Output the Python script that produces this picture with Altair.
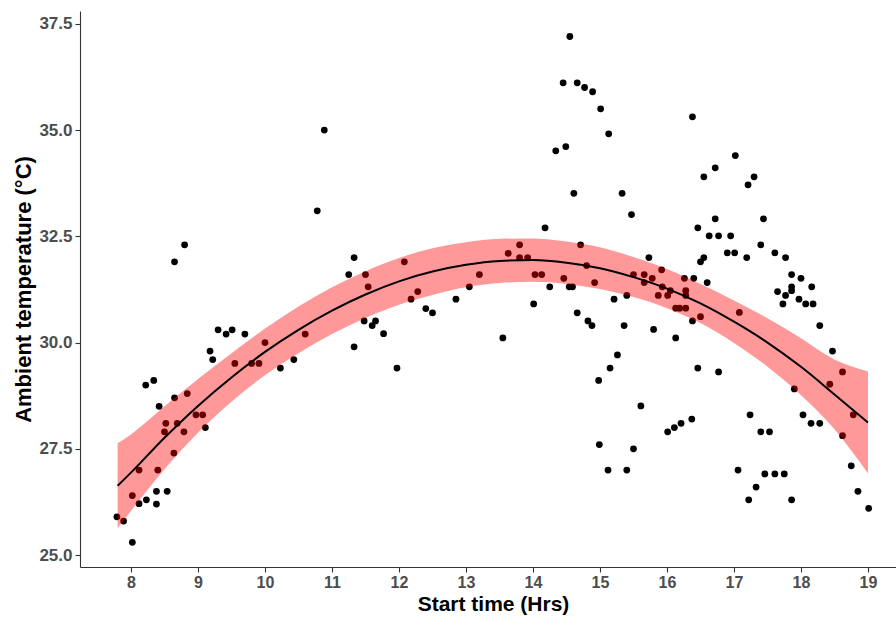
import altair as alt
import pandas as pd

start_time = [
    7.79, 7.89, 8.02, 8.02, 8.12, 8.12, 8.23, 8.22, 8.34, 8.38, 8.38, 8.40, 8.42, 8.54, 8.50, 8.52,
    8.64, 8.65, 8.69, 8.79, 8.84, 8.97, 9.07, 9.11, 9.18, 9.22, 9.30, 9.42, 9.51, 9.55, 9.70, 9.80,
    9.91, 10.00, 10.23, 10.43, 10.60, 11.33, 10.885, 10.78, 8.80, 8.65, 11.33, 11.25, 11.50, 11.54,
    12.08, 12.28, 12.18, 13.05, 13.20, 12.85, 13.63, 13.80, 13.80, 13.92, 14.03, 14.13, 14.18, 14.25,
    14.46, 14.54, 14.59, 14.71, 14.80, 14.92, 15.21, 14.55, 14.45, 14.66, 14.77, 14.89, 15.01, 15.13,
    14.34, 14.49, 14.61, 15.33, 15.47, 16.38, 17.02, 16.72, 16.55, 17.30, 17.21, 16.72, 17.44, 16.46,
    16.63, 16.77, 16.95, 17.40, 16.90, 17.01, 17.19, 17.61, 17.77, 16.55, 16.50, 15.73, 17.86, 18.00,
    17.86, 17.86, 18.16, 17.65, 17.77, 17.97, 15.92, 15.50, 15.66, 15.66, 15.78, 15.93, 15.87, 16.01,
    16.05, 16.26, 16.28, 16.28, 16.40, 16.60, 15.40, 16.13, 16.19, 16.28, 16.38, 16.50, 15.36, 15.80,
    16.13, 15.26, 15.15, 14.98, 16.46, 16.77, 17.08, 15.61, 14.99, 15.50, 15.12, 15.40, 16.01, 16.11,
    16.21, 16.37, 17.73, 18.07, 18.18, 18.28, 18.47, 18.62, 18.43, 17.90, 18.03, 18.15, 18.28, 18.78,
    18.62, 18.75, 18.85, 19.01, 17.24, 17.40, 17.53, 17.06, 17.33, 17.22, 17.46, 17.61, 17.75, 17.86,
    11.48, 11.60, 11.65, 11.77, 11.97, 12.40, 12.50, 13.55, 14.01, 14.66, 14.82, 14.88,
]
temperature = [
    25.90, 25.80, 25.30, 26.40, 27.00, 26.21, 26.30, 29.00, 29.11, 26.50, 26.20, 27.00, 28.50, 26.50, 27.90, 28.10,
    27.40, 28.70, 28.10, 27.90, 28.80, 28.30, 28.30, 28.00, 29.80, 29.60, 30.30, 30.20, 30.30, 29.51, 30.20, 29.51,
    29.51, 30.00, 29.40, 29.60, 30.20, 29.90, 35.00, 33.10, 32.30, 31.90, 32.00, 31.60, 31.60, 31.31,
    31.90, 31.20, 31.02, 31.31, 31.60, 31.02, 32.10, 32.30, 32.00, 32.00, 31.60, 31.60, 32.70, 31.31,
    31.51, 31.31, 31.31, 32.30, 31.81, 31.41, 31.02, 37.20, 36.11, 36.11, 36.00, 35.90, 35.50, 34.91,
    34.51, 34.61, 33.51, 33.51, 33.01, 35.31, 34.40, 34.11, 33.90, 33.90, 33.71, 32.91, 32.91, 32.70,
    32.51, 32.51, 32.51, 32.30, 32.11, 32.11, 32.00, 32.11, 32.00, 32.00, 31.90, 32.00, 31.60, 31.51,
    31.31, 31.22, 31.31, 31.20, 31.11, 31.02, 31.71, 31.60, 31.60, 31.41, 31.51, 31.31, 31.11, 31.11,
    31.22, 31.51, 31.22, 31.11, 31.51, 31.41, 31.11, 30.81, 30.81, 30.81, 30.51, 30.61, 30.40, 30.31,
    30.11, 29.71, 29.40, 29.11, 29.40, 29.31, 30.71, 28.51, 27.60, 27.50, 27.00, 27.00, 27.90, 28.00,
    28.10, 28.20, 30.91, 30.91, 30.91, 30.40, 29.80, 29.31, 29.02, 28.91, 28.30, 28.10, 28.10, 28.30,
    27.81, 27.10, 26.50, 26.10, 28.30, 27.90, 27.90, 27.00, 26.60, 26.30, 26.91, 26.91, 26.91, 26.30,
    30.51, 30.40, 30.51, 30.21, 29.40, 30.80, 30.70, 30.11, 30.91, 30.70, 30.51, 30.40,
]

# Fitted curve and its confidence band
fit_x = [7.8, 8.0, 8.5, 9.0, 9.5, 10.0, 10.5, 11.0, 11.5, 12.0, 12.5, 13.0,
         13.5, 14.0, 14.5, 15.0, 15.5, 16.0, 16.5, 17.0, 17.5, 18.0, 18.5, 19.0]
fit_y = [26.63, 26.94, 27.76, 28.51, 29.18, 29.78, 30.30, 30.75, 31.13, 31.44, 31.67, 31.83,
         31.92, 31.94, 31.88, 31.75, 31.54, 31.27, 30.92, 30.49, 30.00, 29.43, 28.78, 28.12]
band_lo = [25.63, 26.04, 27.02, 27.88, 28.61, 29.23, 29.75, 30.20, 30.58, 30.89, 31.12, 31.30,
           31.40, 31.43, 31.38, 31.26, 31.07, 30.81, 30.46, 29.99, 29.43, 28.76, 27.96, 26.92]
band_hi = [27.63, 27.84, 28.50, 29.14, 29.75, 30.33, 30.85, 31.30, 31.68, 31.99, 32.22, 32.36,
           32.44, 32.45, 32.38, 32.24, 32.01, 31.73, 31.38, 30.99, 30.57, 30.10, 29.60, 29.32]

x_ticks = [8, 9, 10, 11, 12, 13, 14, 15, 16, 17, 18, 19]
y_ticks = [25.0, 27.5, 30.0, 32.5, 35.0, 37.5]

pts = pd.DataFrame({"x": start_time, "y": temperature})
fit = pd.DataFrame({"x": fit_x, "y": fit_y, "lo": band_lo, "hi": band_hi})

FONT = "Liberation Sans"
xscale = alt.Scale(domain=[7.239, 19.418], nice=False, zero=False)
yscale = alt.Scale(domain=[24.72, 37.8], nice=False, zero=False)

xaxis = alt.Axis(
    values=x_ticks, format="d", title="Start time (Hrs)", grid=False,
    labelPadding=2, labelFontSize=16, titleFontSize=21, titleX=413, titleY=43,
    titleAlign="center", titleBaseline="alphabetic",
)
yaxis = alt.Axis(
    values=y_ticks, format=".1f", title="Ambient temperature (°C)", grid=False,
    labelPadding=3, labelFontSize=17, titleFontSize=22, titleAngle=270, titleX=-50, titleY=278,
    titleAlign="center", titleBaseline="alphabetic",
)

points = alt.Chart(pts).mark_circle(size=46, color="black", opacity=1).encode(
    x=alt.X("x:Q", scale=xscale, axis=xaxis),
    y=alt.Y("y:Q", scale=yscale, axis=yaxis),
)

band = alt.Chart(fit).mark_area(color="red", opacity=0.4, interpolate="monotone").encode(
    x=alt.X("x:Q", scale=xscale, axis=xaxis),
    y=alt.Y("lo:Q", scale=yscale, axis=yaxis),
    y2="hi:Q",
)

line = alt.Chart(fit).mark_line(color="black", strokeWidth=2, interpolate="monotone").encode(
    x=alt.X("x:Q", scale=xscale, axis=xaxis),
    y=alt.Y("y:Q", scale=yscale, axis=yaxis),
)

chart = (
    alt.layer(points, band, line)
    .properties(
        width=816, height=556,
        padding={"left": 80, "top": 11, "right": 0, "bottom": 55},
        autosize=alt.AutoSizeParams(type="none"),
        background="white",
    )
    .configure_view(stroke=None)
    .configure_axis(
        domainColor="#333333", domainWidth=1.1,
        tickColor="#333333", tickWidth=1.1, tickSize=5,
        labelFont=FONT, labelFontWeight="bold", labelColor="#4D4D4D",
        titleFont=FONT, titleFontWeight="bold", titleColor="black",
    )
)

chart.save("out.html", embed_options={"renderer": "svg", "actions": False})
